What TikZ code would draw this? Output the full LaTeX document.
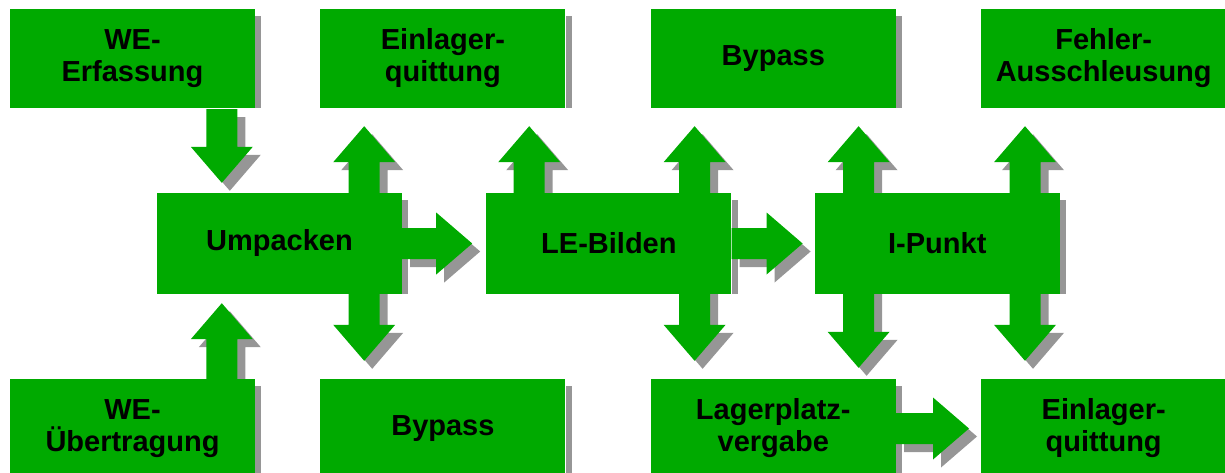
\documentclass[tikz,border=0pt]{standalone}
\usepackage{fontspec}
\setmainfont{Liberation Sans}
\usepackage{tikz}
\usetikzlibrary{positioning,calc}

\definecolor{boxgreen}{RGB}{0,170,0}
\definecolor{shadowgray}{RGB}{150,150,150}

\pgfdeclarelayer{shadow}
\pgfdeclarelayer{arrows}
\pgfsetlayers{shadow,arrows,main}

\newcommand{\shaftw}{15.5pt}
\newcommand{\headw}{31pt}
\newcommand{\headl}{36pt}

% block arrow from #1 to the tip #2
\newcommand{\blockarrow}[2]{%
  \path (#1) coordinate (s) (#2) coordinate (t) ($(t)!\headl!(s)$) coordinate (h);
  \foreach \lay/\col/\off in {shadow/shadowgray/8pt, arrows/boxgreen/0pt}{
    \begin{pgfonlayer}{\lay}
    \fill[\col, transform canvas={shift={(\off,-\off)}}]
      ($(s)!\shaftw!90:(t)$) -- ($(h)!\shaftw!90:(t)$) -- ($(h)!\headw!90:(t)$) -- (t)
      -- ($(h)!\headw!-90:(t)$) -- ($(h)!\shaftw!-90:(t)$) -- ($(s)!\shaftw!-90:(t)$) -- cycle;
    \end{pgfonlayer}
  }}

% block arrow with tips at #1 and #2
\newcommand{\doublearrow}[2]{%
  \path (#1) coordinate (a) (#2) coordinate (b)
    ($(a)!\headl!(b)$) coordinate (ha) ($(b)!\headl!(a)$) coordinate (hb);
  \foreach \lay/\col/\off in {shadow/shadowgray/8pt, arrows/boxgreen/0pt}{
    \begin{pgfonlayer}{\lay}
    \fill[\col, transform canvas={shift={(\off,-\off)}}]
      (b) -- ($(hb)!\headw!90:(b)$) -- ($(hb)!\shaftw!90:(b)$)
      -- ($(ha)!\shaftw!-90:(a)$) -- ($(ha)!\headw!-90:(a)$) -- (a)
      -- ($(ha)!\headw!90:(a)$) -- ($(ha)!\shaftw!90:(a)$)
      -- ($(hb)!\shaftw!-90:(b)$) -- ($(hb)!\headw!-90:(b)$) -- cycle;
    \end{pgfonlayer}
  }}

\begin{document}
\begin{tikzpicture}[
  x=1pt, y=1pt,
  box/.style={fill=boxgreen, align=center, inner sep=0pt, minimum width=245pt, minimum height=99pt,
    font=\fontsize{29}{32}\selectfont\bfseries}
]
\path[use as bounding box] (0,0) rectangle (1225,-473);

% top row
\node[box] (weerf) at (132.5,-58.5) {WE-\\Erfassung};
\node[box, right=65pt of weerf] (einqtop) {Einlager-\\quittung};
\node[box, right=85pt of einqtop] (bypasstop) {Bypass};
\node[box, right=85pt of bypasstop] (fehler) {Fehler-\\Ausschleusung};

% middle row
\node[box, minimum height=101pt] (umpacken) at (279.5,-243.5) {Umpacken};
\node[box, minimum height=101pt, right=84pt of umpacken] (lebilden) {LE-Bilden};
\node[box, minimum height=101pt, right=83pt of lebilden] (ipunkt) {I-Punkt};

% bottom row
\node[box] (weuebertr) at (132.5,-428.5) {WE-\\Übertragung};
\node[box, right=65pt of weuebertr] (bypassbot) {Bypass};
\node[box, right=85pt of bypassbot] (lagerplatz) {Lagerplatz-\\vergabe};
\node[box, right=85pt of lagerplatz] (einqbot) {Einlager-\\quittung};

\begin{pgfonlayer}{shadow}
\foreach \n in {weerf,einqtop,bypasstop,fehler,umpacken,lebilden,ipunkt,weuebertr,bypassbot,lagerplatz,einqbot}
  \fill[shadowgray] ([yshift=-7pt]\n.north east) rectangle ([xshift=6pt]\n.south east);
\end{pgfonlayer}

% arrows
\blockarrow{$(umpacken.north west |- weerf.south)+(65,-1)$}{$(umpacken.north west)+(65,10)$}
\blockarrow{$(umpacken.south west |- weuebertr.north)+(65,0)$}{$(umpacken.south west)+(65,-9)$}
\blockarrow{$(lebilden.north west)+(43,0)$}{$(lebilden.north west |- einqtop.south)+(43,-18)$}
\doublearrow{$(einqtop.south west)+(44,-18)$}{$(bypassbot.north west)+(44,18)$}
\doublearrow{$(bypasstop.south west)+(44,-18)$}{$(lagerplatz.north west)+(44,18)$}
\doublearrow{$(ipunkt.north west |- bypasstop.south)+(44,-18)$}{$(ipunkt.south west |- einqbot.north)+(44,11)$}
\doublearrow{$(fehler.south west)+(44,-18)$}{$(einqbot.north west)+(44,18)$}
\blockarrow{umpacken.east}{$(lebilden.west)+(-14,0)$}
\blockarrow{lebilden.east}{$(ipunkt.west)+(-12,0)$}
\blockarrow{lagerplatz.east}{$(einqbot.west)+(-12,0)$}
\end{tikzpicture}
\end{document}
